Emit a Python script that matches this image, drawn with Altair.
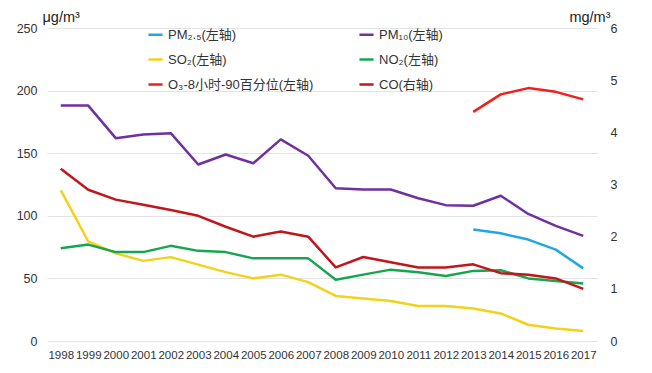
import altair as alt
import pandas as pd

years = [str(y) for y in range(1998, 2018)]
pm10 = [188, 188, 162, 165, 166, 141, 149, 142, 161, 148, 122, 121, 121, 114, 108.5, 108, 116, 101.5, 92, 84]
so2 = [120.5, 79.5, 70, 64, 67, 61, 55, 50, 53, 47, 36, 34, 32, 28, 28, 26, 22, 13, 10, 8]
no2 = [74, 77, 71, 71, 76, 72, 71, 66, 66, 66, 49, 53, 57, 55, 52, 56, 56.5, 50, 48, 46]
co = [3.30, 2.90, 2.71, 2.61, 2.51, 2.40, 2.19, 2.00, 2.10, 2.00, 1.41, 1.61, 1.51, 1.41, 1.41, 1.47, 1.30, 1.27, 1.20, 1.00]
late_years = ["2013", "2014", "2015", "2016", "2017"]
pm25 = [89, 86, 81, 73, 58]
o3 = [183, 197, 202, 199, 193]

names = ["PM₂.₅(左轴)", "PM₁₀(左轴)", "SO₂(左轴)", "NO₂(左轴)", "O₃-8小时-90百分位(左轴)", "CO(右轴)"]
colors = ["#22a7e0", "#7030a0", "#f2d21b", "#17a650", "#f21e1e", "#c0161c"]

rows = []
for n, yrs, vals in [(names[0], late_years, pm25), (names[1], years, pm10), (names[2], years, so2),
                     (names[3], years, no2), (names[4], late_years, o3)]:
    for y, v in zip(yrs, vals):
        rows.append({"year": y, "value": v, "series": n})
left_df = pd.DataFrame(rows)
right_df = pd.DataFrame({"year": years, "value": co, "series": names[5]})

FONT = "Liberation Sans, Noto Sans CJK SC, sans-serif"

xenc = alt.X("year:O", scale=alt.Scale(type="point", padding=0.5, domain=years),
             axis=alt.Axis(title=None, labelAngle=0, ticks=False, domain=False, labelPadding=8,
                           labelFontSize=11.5, labelOverlap=False, labelColor="#333", labelFont=FONT))
color = alt.Color("series:N", scale=alt.Scale(domain=names, range=colors),
                  legend=alt.Legend(title=None, orient="none", legendX=100, legendY=-2, columns=2,
                                    columnPadding=40, rowPadding=9, symbolType="stroke",
                                    symbolStrokeWidth=2.5, symbolSize=200, labelFontSize=13,
                                    labelFont=FONT, labelColor="#333", direction="horizontal"))

left = alt.Chart(left_df).mark_line(strokeWidth=2.5, strokeJoin="round").encode(
    x=xenc,
    y=alt.Y("value:Q", scale=alt.Scale(domain=[0, 250]),
            axis=alt.Axis(values=[0, 50, 100, 150, 200, 250], title="μg/m³", titleAngle=0,
                          titleX=-5, titleY=-7, titleAlign="left", titleBaseline="alphabetic",
                          titleFontSize=14.5, titleFontWeight="normal", titleFont=FONT, titleColor="#222",
                          ticks=False, domain=False, labelPadding=10, labelFontSize=12.5,
                          labelFont=FONT, labelColor="#333", gridColor="#e3e3e3")),
    color=color,
    detail="series:N",
)

right = alt.Chart(right_df).mark_line(strokeWidth=2.5, strokeJoin="round").encode(
    x=xenc,
    y=alt.Y("value:Q", scale=alt.Scale(domain=[0, 6]),
            axis=alt.Axis(orient="right", values=[0, 1, 2, 3, 4, 5, 6], title="mg/m³", titleAngle=0,
                          titleX=13, titleY=-7, titleAlign="right", titleBaseline="alphabetic",
                          titleFontSize=14.5, titleFontWeight="normal", titleFont=FONT, titleColor="#222",
                          ticks=False, domain=False, grid=False, labelPadding=13, labelFontSize=12.5,
                          labelFont=FONT, labelColor="#333")),
    color=color,
)

chart = alt.layer(left, right).resolve_scale(y="independent").properties(
    width=550, height=313,
    autosize=alt.AutoSizeParams(type="none"),
    padding={"left": 39, "top": 20, "right": 47, "bottom": 24},
).configure_view(stroke=None)

chart.save("out.html", embed_options={"renderer": "svg", "actions": False})
